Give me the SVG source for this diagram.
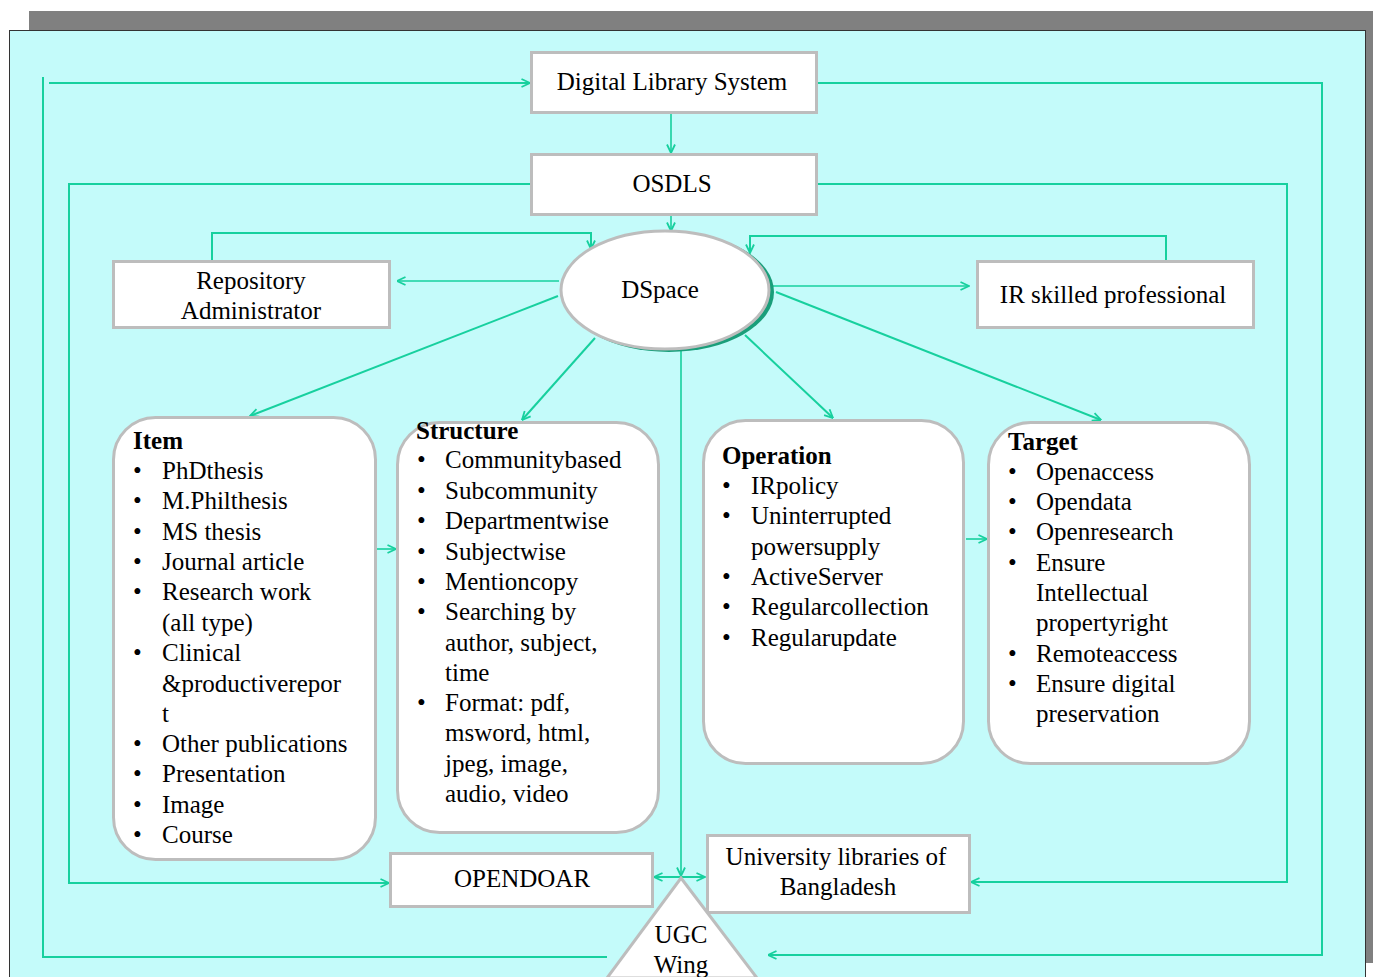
<svg xmlns="http://www.w3.org/2000/svg" width="1373" height="977" viewBox="0 0 1373 977">
<defs>
<style>
.t{font-family:"Liberation Serif","Times New Roman",serif;font-size:25px;fill:#000}
.b{font-weight:bold}
.m{text-anchor:middle}
.box{fill:#fff;stroke:#bdbdbd;stroke-width:3}
.c{fill:none;stroke:#17d09e;stroke-width:2}
.c2{fill:none;stroke:#17d09e;stroke-width:1.6}
</style>
<marker id="a" viewBox="0 0 10 10" refX="9.5" refY="5" markerWidth="10" markerHeight="10" markerUnits="userSpaceOnUse" orient="auto-start-reverse">
<path d="M1,1 L9.5,5 L1,9" fill="none" stroke="#17d09e" stroke-width="1.8"/>
</marker>
</defs>
<rect x="0" y="0" width="1373" height="977" fill="#fff"/>
<rect x="29" y="11" width="1344" height="20" fill="#808080"/>
<rect x="1365" y="11" width="8" height="952" fill="#808080"/>
<rect x="9.5" y="30.5" width="1356" height="950" fill="#c4fbfa" stroke="#333" stroke-width="1"/>

<g id="connectors">
<path class="c" d="M607,957 H43 V77"/>
<path class="c" d="M49,83 H530" marker-end="url(#a)"/>
<path class="c" d="M817,83 H1322 V955 H768" marker-end="url(#a)"/>
<path class="c2" d="M671,113 V153" marker-end="url(#a)"/>
<path class="c" d="M531,184 H69 V883 H389" marker-end="url(#a)"/>
<path class="c" d="M817,184 H1287 V882 H971" marker-end="url(#a)"/>
<path class="c2" d="M671,214 V231" marker-end="url(#a)"/>
<path class="c" d="M212,260 V233 H591 V249" marker-end="url(#a)"/>
<path class="c" d="M1166,260 V236 H750 V253" marker-end="url(#a)"/>
<path class="c2" d="M559,281 H397" marker-end="url(#a)"/>
<path class="c2" d="M773,286 H969" marker-end="url(#a)"/>
<path class="c" d="M558,296 L250,416" marker-end="url(#a)"/>
<path class="c" d="M595,338 L522,420" marker-end="url(#a)"/>
<path class="c" d="M745,335 L833,418" marker-end="url(#a)"/>
<path class="c" d="M776,292 L1101,420" marker-end="url(#a)"/>
<path class="c2" d="M681,350 V876" marker-end="url(#a)"/>
<path class="c2" d="M376,549 H396" marker-end="url(#a)"/>
<path class="c2" d="M966,539 H987" marker-end="url(#a)"/>
<path class="c" d="M654,877 H705" marker-start="url(#a)" marker-end="url(#a)"/>
</g>

<g id="dls">
<rect class="box" x="531.5" y="52.5" width="285" height="60"/>
<text class="t m" x="672" y="90">Digital Library System</text>
</g>
<g id="osdls">
<rect class="box" x="531.5" y="154.5" width="285" height="60"/>
<text class="t m" x="672" y="192">OSDLS</text>
</g>
<g id="dspace">
<ellipse cx="669" cy="292" rx="105" ry="60" fill="#1a9e7a"/>
<ellipse cx="665" cy="290" rx="104" ry="59" fill="#fff" stroke="#bdbdbd" stroke-width="3"/>
<text class="t m" x="660" y="298">DSpace</text>
</g>
<g id="repo">
<rect class="box" x="113.5" y="261.5" width="276" height="66"/>
<text class="t m" x="251" y="289">Repository</text>
<text class="t m" x="251" y="319">Administrator</text>
</g>
<g id="irpro">
<rect class="box" x="977.5" y="261.5" width="276" height="66"/>
<text class="t m" x="1113" y="303">IR skilled professional</text>
</g>

<g id="item">
<rect class="box" x="113.5" y="417.5" width="262" height="442" rx="42"/>
<text class="t b" x="133" y="449">Item</text>
<g class="t">
<text x="133" y="479">•</text><text x="162" y="479">PhDthesis</text>
<text x="133" y="509">•</text><text x="162" y="509">M.Philthesis</text>
<text x="133" y="540">•</text><text x="162" y="540">MS thesis</text>
<text x="133" y="570">•</text><text x="162" y="570">Journal article</text>
<text x="133" y="600">•</text><text x="162" y="600">Research work</text>
<text x="162" y="631">(all type)</text>
<text x="133" y="661">•</text><text x="162" y="661">Clinical</text>
<text x="162" y="692">&amp;productiverepor</text>
<text x="162" y="722">t</text>
<text x="133" y="752">•</text><text x="162" y="752">Other publications</text>
<text x="133" y="782">•</text><text x="162" y="782">Presentation</text>
<text x="133" y="813">•</text><text x="162" y="813">Image</text>
<text x="133" y="843">•</text><text x="162" y="843">Course</text>
</g>
</g>

<g id="structure">
<rect class="box" x="397.5" y="422.5" width="261" height="410" rx="42"/>
<text class="t b" x="416" y="439">Structure</text>
<g class="t">
<text x="417" y="468">•</text><text x="445" y="468">Communitybased</text>
<text x="417" y="499">•</text><text x="445" y="499">Subcommunity</text>
<text x="417" y="529">•</text><text x="445" y="529">Departmentwise</text>
<text x="417" y="560">•</text><text x="445" y="560">Subjectwise</text>
<text x="417" y="590">•</text><text x="445" y="590">Mentioncopy</text>
<text x="417" y="620">•</text><text x="445" y="620">Searching by</text>
<text x="445" y="651">author, subject,</text>
<text x="445" y="681">time</text>
<text x="417" y="711">•</text><text x="445" y="711">Format: pdf,</text>
<text x="445" y="741">msword, html,</text>
<text x="445" y="772">jpeg, image,</text>
<text x="445" y="802">audio, video</text>
</g>
</g>

<g id="operation">
<rect class="box" x="703.5" y="420.5" width="260" height="343" rx="42"/>
<text class="t b" x="722" y="464">Operation</text>
<g class="t">
<text x="722" y="494">•</text><text x="751" y="494">IRpolicy</text>
<text x="722" y="524">•</text><text x="751" y="524">Uninterrupted</text>
<text x="751" y="555">powersupply</text>
<text x="722" y="585">•</text><text x="751" y="585">ActiveServer</text>
<text x="722" y="615">•</text><text x="751" y="615">Regularcollection</text>
<text x="722" y="646">•</text><text x="751" y="646">Regularupdate</text>
</g>
</g>

<g id="target">
<rect class="box" x="988.5" y="422.5" width="261" height="341" rx="42"/>
<text class="t b" x="1008" y="450">Target</text>
<g class="t">
<text x="1008" y="480">•</text><text x="1036" y="480">Openaccess</text>
<text x="1008" y="510">•</text><text x="1036" y="510">Opendata</text>
<text x="1008" y="540">•</text><text x="1036" y="540">Openresearch</text>
<text x="1008" y="571">•</text><text x="1036" y="571">Ensure</text>
<text x="1036" y="601">Intellectual</text>
<text x="1036" y="631">propertyright</text>
<text x="1008" y="662">•</text><text x="1036" y="662">Remoteaccess</text>
<text x="1008" y="692">•</text><text x="1036" y="692">Ensure digital</text>
<text x="1036" y="722">preservation</text>
</g>
</g>

<g id="opendoar">
<rect class="box" x="390.5" y="853.5" width="262" height="53"/>
<text class="t m" x="522" y="887">OPENDOAR</text>
</g>
<g id="univ">
<rect class="box" x="707.5" y="835.5" width="262" height="77"/>
<text class="t m" x="836" y="865">University libraries of</text>
<text class="t m" x="838" y="895">Bangladesh</text>
</g>
<g id="ugc">
<path d="M681,878 L757,978 L607,978 Z" fill="#fff" stroke="#bdbdbd" stroke-width="3"/>
<text class="t m" x="681" y="943">UGC</text>
<text class="t m" x="681" y="973">Wing</text>
</g>
</svg>
